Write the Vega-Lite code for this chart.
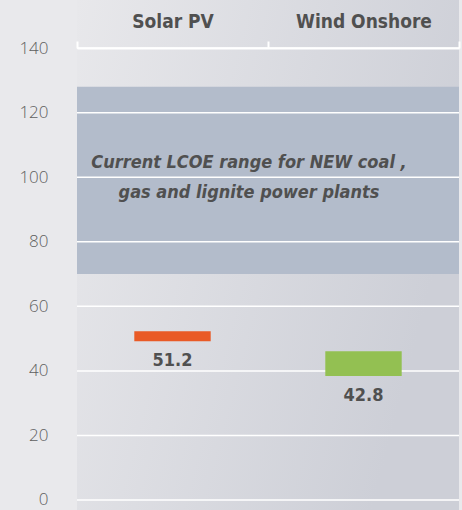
{
  "$schema": "https://vega.github.io/schema/vega-lite/v6.json",
  "width": 382,
  "height": 510,
  "autosize": {"type": "none"},
  "padding": {"left": 77, "top": 0, "right": 3, "bottom": 0},
  "background": "#e9e9ec",
  "config": {"view": {"stroke": null, "fill": {"gradient": "linear", "x1": 0, "y1": 0, "x2": 1, "y2": 0.35, "stops": [{"offset": 0, "color": "#e8e8eb"}, {"offset": 1, "color": "#cdcfd7"}]}}},
  "datasets": {
    "tech": [
      {"tech": "Solar PV", "low": 49.2, "high": 52.3, "value": 51.2},
      {"tech": "Wind Onshore", "low": 38.4, "high": 46.1, "value": 42.8}
    ],
    "band": [
      {"low": 70, "high": 128, "mid": 100, "label": "Current LCOE range for NEW coal ,\ngas and lignite power plants"}
    ],
    "grid": [{"v": 0}, {"v": 20}, {"v": 40}, {"v": 60}, {"v": 80}, {"v": 100}, {"v": 120}, {"v": 140}]
  },
  "layer": [
    {
      "data": {"name": "band"},
      "mark": {"type": "rect", "color": "#b3bccb"},
      "encoding": {
        "y": {"field": "low", "type": "quantitative", "scale": {"domain": [-3.1, 154.9], "nice": false, "zero": false}, "axis": {"title": null, "values": [0, 20, 40, 60, 80, 100, 120, 140], "grid": false, "domain": false, "ticks": false, "labelPadding": 29, "labelFontSize": 17, "labelFont": "Open Sans", "labelFontWeight": 300, "labelColor": "#5f5f5f"}},
        "y2": {"field": "high"}
      }
    },
    {
      "data": {"name": "grid"},
      "mark": {"type": "rule", "color": "#ffffff", "strokeWidth": 1.5},
      "encoding": {"y": {"field": "v", "type": "quantitative"}}
    },
    {
      "data": {"name": "band"},
      "mark": {"type": "text", "lineBreak": "\n", "lineHeight": 30, "font": "DejaVu Sans Condensed, Roboto, sans-serif", "fontWeight": "bold", "fontStyle": "italic", "fontSize": 18, "color": "#505050", "baseline": "middle", "align": "center", "dx": -19, "dy": -14},
      "encoding": {
        "y": {"field": "mid", "type": "quantitative"},
        "text": {"field": "label"}
      }
    },
    {
      "data": {"name": "tech"},
      "mark": {"type": "bar", "width": {"band": 0.4}},
      "encoding": {
        "x": {"field": "tech", "type": "nominal", "sort": null, "scale": {"paddingInner": 0, "paddingOuter": 0},
          "axis": {"orient": "top", "offset": -48, "title": null, "domainColor": "#ffffff", "domainWidth": 2, "tickColor": "#ffffff", "tickWidth": 2, "tickSize": 7, "tickBand": "extent", "labelAngle": 0, "labelPadding": 10, "labelFont": "DejaVu Sans Condensed, Roboto, sans-serif", "labelFontWeight": "bold", "labelFontSize": 19, "labelColor": "#505050"}},
        "y": {"field": "low", "type": "quantitative"},
        "y2": {"field": "high"},
        "color": {"field": "tech", "type": "nominal", "scale": {"domain": ["Solar PV", "Wind Onshore"], "range": ["#e95a26", "#93c052"]}, "legend": null}
      }
    },
    {
      "data": {"name": "tech"},
      "mark": {"type": "text", "dy": 20, "baseline": "middle", "align": "center", "font": "DejaVu Sans Condensed, Roboto, sans-serif", "fontWeight": "bold", "fontSize": 18, "color": "#505050"},
      "encoding": {
        "x": {"field": "tech", "type": "nominal", "sort": null},
        "y": {"field": "low", "type": "quantitative"},
        "text": {"field": "value", "type": "quantitative", "format": ".1f"}
      }
    }
  ]
}
